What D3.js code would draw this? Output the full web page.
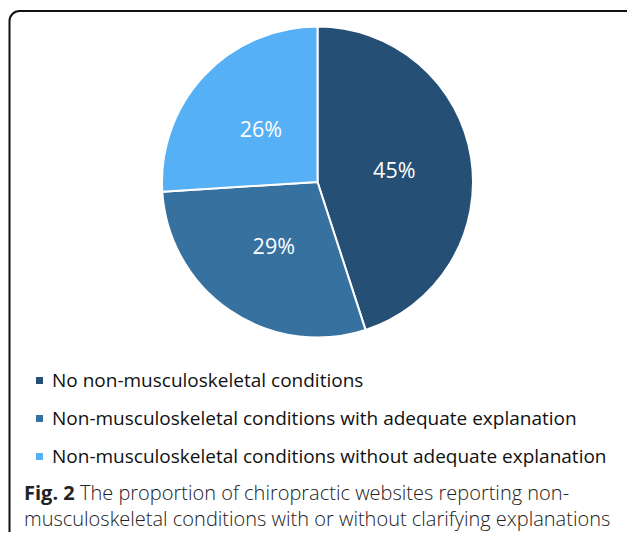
<!DOCTYPE html>
<html>
<head>
<meta charset="utf-8">
<script src="https://cdn.jsdelivr.net/npm/d3@7"></script>
<style>
  html, body { margin: 0; padding: 0; background: #fff; }
  svg { display: block; }
</style>
</head>
<body>
<div id="chart"></div>
<script>
// Data
const categories = [
    'No non-musculoskeletal conditions',
    'Non-musculoskeletal conditions with adequate explanation',
    'Non-musculoskeletal conditions without adequate explanation'
];
const percents = [45, 29, 26];
const colors = ['#254f75', '#3671a0', '#56b0f5'];
const captionBold = 'Fig. 2';
const captionLines = [
    ' The proportion of chiropractic websites reporting non-',
    'musculoskeletal conditions with or without clarifying explanations'
];

const width = 627, height = 537;

const svg = d3.select('#chart')
    .append('svg')
    .attr('width', width)
    .attr('height', height);

// Frame (cropped figure border: left + top with rounded corner)
svg.append('path')
    .attr('d', 'M9.5,532 V21 A10,10 0 0 1 19.5,11 H627')
    .attr('fill', 'none')
    .attr('stroke', '#111')
    .attr('stroke-width', 2);

// Pie
const cx = 317.5, cy = 182, r = 155.5;
const g = svg.append('g').attr('transform', `translate(${cx},${cy})`);

const pie = d3.pie().sort(null).value(d => d);
const arc = d3.arc().innerRadius(0).outerRadius(r);
const labelArc = d3.arc().innerRadius(r * 0.5).outerRadius(r * 0.5);
const arcs = pie(percents);

g.selectAll('path.slice')
    .data(arcs)
    .enter()
    .append('path')
    .attr('class', 'slice')
    .attr('d', arc)
    .attr('fill', (d, i) => colors[i])
    .attr('stroke', '#fff')
    .attr('stroke-width', 2)
    .attr('stroke-linejoin', 'round');

g.selectAll('text.pct')
    .data(arcs)
    .enter()
    .append('text')
    .attr('class', 'pct')
    .attr('transform', d => `translate(${labelArc.centroid(d)})`)
    .attr('text-anchor', 'middle')
    .attr('dy', '0.36em')
    .attr('fill', '#fff')
    .style('font-family', '"Open Sans", sans-serif')
    .style('font-size', '21.5px')
    .text(d => d.data + '%');

// Legend
const legendY = d3.scalePoint()
    .domain(categories)
    .range([380.5, 456.5]);

const legend = svg.append('g').attr('class', 'legend');
const rows = legend.selectAll('g')
    .data(categories)
    .enter()
    .append('g')
    .attr('transform', d => `translate(0,${legendY(d)})`);

rows.append('rect')
    .attr('x', 36)
    .attr('y', -3.5)
    .attr('width', 7)
    .attr('height', 7)
    .attr('fill', (d, i) => colors[i]);

rows.append('text')
    .attr('x', 52)
    .attr('dy', '0.36em')
    .attr('fill', '#111')
    .style('font-family', '"Open Sans", sans-serif')
    .style('font-size', '19px')
    .text(d => d);

// Caption
const cap = svg.append('g').attr('class', 'caption')
    .style('font-family', '"Open Sans", sans-serif')
    .style('font-size', '20px')
    .attr('fill', '#222');

const line1 = cap.append('text').attr('x', 24).attr('y', 500);
line1.append('tspan').style('font-weight', 700).text(captionBold);
line1.append('tspan').style('font-weight', 300).text(captionLines[0]);

cap.append('text')
    .attr('x', 24)
    .attr('y', 526)
    .style('font-weight', 300)
    .text(captionLines[1]);
</script>
</body>
</html>
